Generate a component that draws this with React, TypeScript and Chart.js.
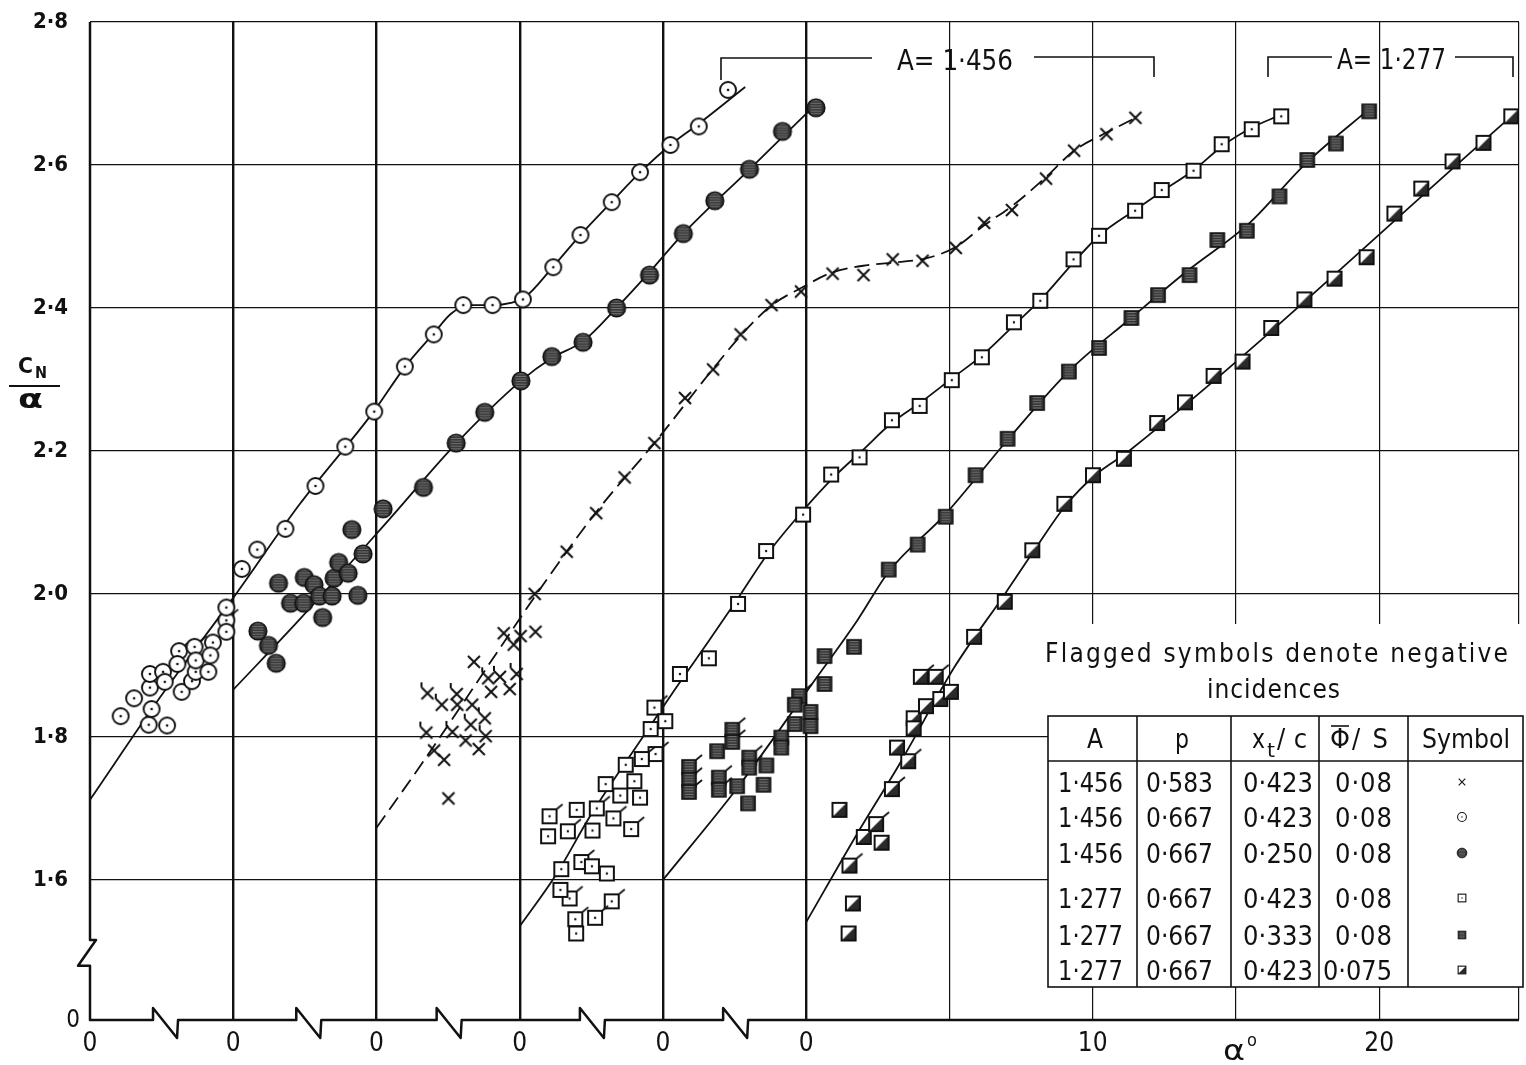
import React, { useEffect, useRef } from "react";
import { Chart, registerables } from "chart.js";

Chart.register(...registerables);

const W = 1526;
const H = 1065;
const INK = "#111111";
const FONT = '"DejaVu Sans Condensed", "DejaVu Sans", sans-serif';

// ---------- axes ----------
const X_MIN = 0;
const X_MAX = 49.88;
const Y_MIN = 1.404; // position of the broken "0"
const Y_MAX = 2.8;
// each family of curves is drawn from its own origin, shifted by 5 deg
const ORIGIN_OFFSETS = [0, 5, 10, 15, 20, 25];
const xTickValues = [0, 5, 10, 15, 20, 25, 30, 35, 40, 45, 49.88];
const xTickLabels = ["0", "0", "0", "0", "0", "0", "", "10", "", "20", ""];
const yTickValues = [1.404, 1.6, 1.8, 2.0, 2.2, 2.4, 2.6, 2.8];
const yTickLabels = ["", "1·6", "1·8", "2·0", "2·2", "2·4", "2·6", "2·8"];
const axisBreakX = [2.2, 7.2, 12.1, 17.1, 22.1];
const axisBreakY = [1.516, 1.48];

// ---------- A=1.456, p=0.667, xt/c=0.423 (open circles) ----------
const openCircleAlpha = [1.07, 1.54, 2.05, 2.15, 2.09, 2.09, 2.55, 2.61, 2.69, 3.05, 3.2, 3.56, 3.69, 3.69, 4.13, 4.2, 4.76, 4.76, 5.3, 5.84, 6.82, 7.87, 8.91, 9.92, 10.99, 12.0, 13.03, 14.05, 15.11, 16.17, 17.12, 18.21, 19.2, 20.26, 21.25, 22.27];
const openCircleCN = [1.829, 1.854, 1.817, 1.839, 1.869, 1.888, 1.891, 1.877, 1.816, 1.902, 1.863, 1.878, 1.891, 1.907, 1.891, 1.914, 1.947, 1.981, 2.035, 2.062, 2.091, 2.151, 2.206, 2.255, 2.318, 2.363, 2.404, 2.404, 2.412, 2.457, 2.502, 2.548, 2.59, 2.628, 2.654, 2.705];
const openCircleNegAlpha = [3.11, 3.65, 4.29, 4.76];
const openCircleNegCN = [1.92, 1.926, 1.932, 1.963];
const openCircleFitAlpha = [0, 2.44, 5.08, 7.31, 9.92, 11.0, 12.01, 12.6, 13.23, 14.06, 14.69, 15.18, 16.19, 17.16, 18.2, 19.21, 20.26, 21.23, 22.87];
const openCircleFitCN = [1.712, 1.855, 1.999, 2.125, 2.256, 2.318, 2.365, 2.392, 2.404, 2.404, 2.407, 2.415, 2.459, 2.504, 2.548, 2.59, 2.628, 2.657, 2.709];

// ---------- A=1.456, p=0.667, xt/c=0.250 (filled circles) ----------
const filledCircleAlpha = [0.86, 1.23, 1.5, 1.58, 2.0, 2.46, 2.48, 2.82, 3.01, 3.45, 3.12, 3.52, 3.68, 4.01, 4.14, 4.35, 4.53, 5.23, 6.64, 7.78, 8.78, 10.04, 11.12, 12.21, 13.38, 14.53, 15.71, 16.81, 18.02, 19.17, 20.34];
const filledCircleCN = [1.948, 1.928, 1.903, 2.015, 1.987, 1.987, 2.023, 2.013, 1.997, 1.997, 1.967, 2.022, 2.044, 2.029, 2.09, 1.998, 2.056, 2.119, 2.149, 2.211, 2.254, 2.298, 2.332, 2.352, 2.4, 2.446, 2.504, 2.55, 2.594, 2.647, 2.68];
const filledCircleFitAlpha = [0, 2.31, 5.44, 7.77, 10.04, 11.12, 12.23, 13.38, 14.53, 15.71, 18.02, 20.34];
const filledCircleFitCN = [1.866, 1.964, 2.104, 2.21, 2.298, 2.33, 2.354, 2.4, 2.45, 2.504, 2.594, 2.685];

// ---------- A=1.456, p=0.583, xt/c=0.423 (crosses) ----------
const crossAlpha = [5.52, 6.64, 7.67, 8.66, 9.7, 10.77, 11.75, 12.71, 13.79, 14.82, 15.92, 17.0, 18.02, 19.06, 20.22, 21.21, 22.18, 23.37, 24.35, 25.48, 26.49, 4.44, 5.03, 5.55, 4.79, 3.4, 4.0, 4.65, 2.82, 3.34, 3.11, 3.57, 2.01, 2.36, 2.51];
const crossCN = [2.0, 2.059, 2.113, 2.163, 2.211, 2.274, 2.314, 2.363, 2.404, 2.423, 2.448, 2.446, 2.468, 2.466, 2.484, 2.519, 2.537, 2.581, 2.62, 2.643, 2.666, 1.945, 1.941, 1.947, 1.929, 1.905, 1.863, 1.867, 1.845, 1.845, 1.795, 1.783, 1.781, 1.768, 1.714];
const crossNegAlpha = [3.9, 4.31, 4.89, 1.78, 2.8, 2.28, 3.78, 3.29, 2.65, 1.74, 3.81];
const crossNegCN = [1.882, 1.884, 1.888, 1.861, 1.86, 1.845, 1.826, 1.817, 1.807, 1.806, 1.801];
const crossFitAlpha = [0, 1.66, 4.39, 5.66, 7.68, 9.7, 11.75, 12.73, 13.77, 14.82, 15.93, 17.15, 18.19, 19.24, 20.21, 21.19, 22.23, 23.34, 24.35, 25.47, 26.55];
const crossFitCN = [1.673, 1.767, 1.929, 2.004, 2.115, 2.211, 2.315, 2.362, 2.403, 2.428, 2.45, 2.46, 2.464, 2.47, 2.485, 2.515, 2.544, 2.582, 2.62, 2.645, 2.667];

// ---------- A=1.277, p=0.667, xt/c=0.423, 0.08 (open squares) ----------
const openSquareAlpha = [26.58, 25.55, 24.5, 23.52, 22.41, 21.48, 20.22, 19.33, 18.17, 17.25, 16.13, 15.08, 13.96, 12.99, 11.86, 10.87, 9.89, 8.6, 7.62, 6.6, 5.59, 5.08, 4.57, 3.7, 3.0, 4.0, 3.51, 4.2, 1.99, 2.54, 0.99, 1.45, 2.52, 3.04, 1.42, 1.97];
const openSquareCN = [2.668, 2.65, 2.629, 2.592, 2.565, 2.536, 2.501, 2.468, 2.41, 2.38, 2.331, 2.299, 2.263, 2.243, 2.191, 2.167, 2.111, 2.06, 1.986, 1.91, 1.888, 1.822, 1.811, 1.761, 1.734, 1.738, 1.718, 1.715, 1.698, 1.669, 1.661, 1.615, 1.619, 1.609, 1.586, 1.525];
const openSquareNegAlpha = [4.7, 4.74, 4.26, 2.69, 1.04, 3.27, 1.68, 3.89, 2.15, 1.74, 3.21, 1.94, 2.63];
const openSquareNegCN = [1.841, 1.776, 1.769, 1.7, 1.689, 1.686, 1.668, 1.671, 1.625, 1.574, 1.57, 1.545, 1.547];
const openSquareFitAlpha = [0, 1.25, 2.47, 4.35, 5.53, 6.58, 7.62, 8.67, 9.92, 10.93, 11.97, 12.98, 14.03, 15.07, 16.15, 17.23, 18.24, 19.25, 20.22, 21.48, 22.49, 23.53, 24.54, 25.55, 26.56];
const openSquareFitCN = [1.535, 1.606, 1.69, 1.803, 1.873, 1.933, 1.994, 2.057, 2.118, 2.162, 2.201, 2.239, 2.269, 2.301, 2.334, 2.375, 2.414, 2.46, 2.501, 2.537, 2.565, 2.593, 2.627, 2.652, 2.67];

// ---------- A=1.277, p=0.667, xt/c=0.333 (filled squares) ----------
const filledSquareAlpha = [1.89, 2.59, 2.97, 3.51, 3.61, 4.13, 4.13, 4.6, 4.6, 5.15, 5.15, 5.64, 5.64, 6.67, 7.88, 8.89, 9.87, 10.91, 12.03, 13.06, 14.17, 15.22, 16.35, 17.28, 18.38, 19.35, 20.38, 21.52, 22.49, 23.49, 24.65];
const filledSquareCN = [1.78, 1.731, 1.707, 1.733, 1.76, 1.799, 1.785, 1.845, 1.818, 1.835, 1.815, 1.913, 1.874, 1.926, 2.034, 2.069, 2.108, 2.166, 2.217, 2.267, 2.311, 2.344, 2.386, 2.418, 2.446, 2.495, 2.508, 2.556, 2.607, 2.63, 2.675];
const filledSquareNegAlpha = [0.91, 0.91, 0.91, 1.95, 1.95, 2.42, 2.42, 3.01, 3.01, 4.75];
const filledSquareNegCN = [1.758, 1.74, 1.723, 1.743, 1.726, 1.81, 1.793, 1.771, 1.757, 1.857];
const filledSquareFitAlpha = [0, 2.62, 5.06, 6.8, 7.88, 9.87, 12.02, 14.18, 16.34, 18.34, 20.45, 22.46, 24.73];
const filledSquareFitCN = [1.6, 1.73, 1.866, 1.964, 2.031, 2.112, 2.215, 2.312, 2.386, 2.453, 2.518, 2.603, 2.681];

// ---------- A=1.277, p=0.667, xt/c=0.423, 0.075 (half-filled squares) ----------
const halfSquareAlpha = [1.16, 1.48, 1.63, 2.63, 3.17, 3.75, 3.75, 4.18, 4.68, 5.05, 5.86, 6.93, 7.89, 9.01, 10.01, 11.09, 12.25, 13.22, 14.22, 15.23, 16.23, 17.39, 18.44, 19.56, 20.53, 21.47, 22.56, 23.64, 24.61];
const halfSquareCN = [1.698, 1.525, 1.567, 1.652, 1.785, 1.826, 1.812, 1.843, 1.853, 1.863, 1.94, 1.989, 2.061, 2.126, 2.166, 2.189, 2.239, 2.268, 2.305, 2.325, 2.372, 2.412, 2.441, 2.471, 2.532, 2.567, 2.605, 2.631, 2.668];
const halfSquareNegAlpha = [1.51, 2.01, 2.44, 2.99, 3.56, 4.0, 4.52];
const halfSquareNegCN = [1.62, 1.66, 1.678, 1.727, 1.766, 1.884, 1.884];
const halfSquareFitAlpha = [0, 1.8, 3.3, 5.18, 6.92, 8.06, 9.04, 10.08, 11.3, 24.84];
const halfSquareFitCN = [1.541, 1.666, 1.765, 1.898, 1.999, 2.067, 2.123, 2.166, 2.201, 2.676];

// ---------- table ----------
const tableHeader = ["A", "p", "xt/c", "Φ/S", "Symbol"];
const tableA = ["1·456", "1·456", "1·456", "1·277", "1·277", "1·277"];
const tableP = ["0·583", "0·667", "0·667", "0·667", "0·667", "0·667"];
const tableXt = ["0·423", "0·423", "0·250", "0·423", "0·333", "0·423"];
const tablePhi = ["0·08", "0·08", "0·08", "0·08", "0·08", "0·075"];
type Kind = "cross" | "openCircle" | "filledCircle" | "openSquare" | "filledSquare" | "halfSquare";
const tableSymbol: Kind[] = ["cross", "openCircle", "filledCircle", "openSquare", "filledSquare", "halfSquare"];

function makeSymbol(kind: Kind, flagged: boolean, k = 1): HTMLCanvasElement {
  const S = Math.ceil(40 * k);
  const c = document.createElement("canvas");
  c.width = S;
  c.height = S;
  const g = c.getContext("2d") as CanvasRenderingContext2D;
  g.translate(S / 2, S / 2);
  g.scale(k, k);
  g.strokeStyle = INK;
  g.fillStyle = INK;
  const hatch = (r: number) => {
    g.save();
    g.clip();
    g.strokeStyle = "rgba(190,190,190,0.85)";
    g.lineWidth = 0.6;
    for (let y = -r + 1.6; y < r; y += 2.6) {
      g.beginPath();
      g.moveTo(-r * 0.62, y);
      g.lineTo(r * 0.62, y);
      g.stroke();
    }
    g.restore();
  };
  let fx = 7.5;
  if (kind === "cross") {
    g.lineWidth = 2;
    g.beginPath();
    g.moveTo(-6, -6);
    g.lineTo(6, 6);
    g.moveTo(6, -6);
    g.lineTo(-6, 6);
    g.stroke();
    if (flagged) {
      g.beginPath();
      g.moveTo(-6, -6);
      g.lineTo(-6, -11);
      g.stroke();
    }
    return c;
  } else if (kind === "openCircle") {
    g.beginPath();
    g.arc(0, 0, 8, 0, Math.PI * 2);
    g.fillStyle = "#fff";
    g.fill();
    g.lineWidth = 1.9;
    g.stroke();
    g.beginPath();
    g.arc(0, 0, 1.3, 0, Math.PI * 2);
    g.fillStyle = INK;
    g.fill();
    fx = 5.8;
  } else if (kind === "filledCircle") {
    g.beginPath();
    g.arc(0, 0, 8.8, 0, Math.PI * 2);
    g.fillStyle = "#333";
    g.fill();
    g.beginPath();
    g.arc(0, 0, 8.8, 0, Math.PI * 2);
    hatch(8.8);
    g.beginPath();
    g.arc(0, 0, 8.8, 0, Math.PI * 2);
    g.lineWidth = 1.6;
    g.stroke();
    fx = 6.3;
  } else if (kind === "openSquare") {
    g.fillStyle = "#fff";
    g.fillRect(-7, -7, 14, 14);
    g.lineWidth = 2;
    g.strokeRect(-7, -7, 14, 14);
    g.beginPath();
    g.arc(0, 0, 1.2, 0, Math.PI * 2);
    g.fillStyle = INK;
    g.fill();
    fx = 7;
  } else if (kind === "filledSquare") {
    g.fillStyle = "#333";
    g.fillRect(-7, -7, 14, 14);
    g.beginPath();
    g.rect(-7, -7, 14, 14);
    hatch(7);
    g.lineWidth = 1.6;
    g.strokeRect(-7, -7, 14, 14);
    fx = 7;
  } else {
    g.fillStyle = "#fff";
    g.fillRect(-7, -7, 14, 14);
    g.beginPath();
    g.moveTo(-7, 7);
    g.lineTo(7, -7);
    g.lineTo(7, 7);
    g.closePath();
    g.fillStyle = "#2a2a2a";
    g.fill();
    g.lineWidth = 2;
    g.strokeRect(-7, -7, 14, 14);
    fx = 7;
  }
  if (flagged) {
    g.lineWidth = 1.7;
    g.beginPath();
    g.moveTo(fx, -fx);
    g.lineTo(fx + 6, -fx - 5);
    g.stroke();
  }
  return c;
}

function fitText(ctx: CanvasRenderingContext2D, text: string, x: number, y: number, width: number, align: "left" | "center" | "right") {
  const w = ctx.measureText(text).width;
  const left = align === "left" ? x : align === "center" ? x - width / 2 : x - width;
  ctx.save();
  ctx.textAlign = "left";
  if (text.length < 2 || w >= width) {
    ctx.translate(left, y);
    ctx.scale(width / w, 1);
    ctx.fillText(text, 0, 0);
  } else {
    const chars = Array.from(text);
    const extra = (width - w) / (chars.length - 1);
    let cx = left;
    for (const ch of chars) {
      ctx.fillText(ch, cx, y);
      cx += ctx.measureText(ch).width + extra;
    }
  }
  ctx.restore();
}

const pts = (alpha: number[], cn: number[], off: number) => alpha.map((a, i) => ({ x: a + off, y: cn[i] }));

export default function App() {
  const ref = useRef<HTMLCanvasElement | null>(null);
  useEffect(() => {
    document.body.style.margin = "0";
    const canvas = ref.current;
    if (!canvas) return;
    const sym = (k: Kind, f: boolean) => makeSymbol(k, f);
    const small: Record<string, HTMLCanvasElement> = {};
    tableSymbol.forEach((k) => (small[k] = makeSymbol(k, false, 0.55)));

    const fit = (alpha: number[], cn: number[], off: number, dashed = false) => ({
      data: pts(alpha, cn, off),
      showLine: true,
      borderColor: INK,
      borderWidth: 1.8,
      borderDash: dashed ? [15, 7] : [],
      pointRadius: 0,
      cubicInterpolationMode: "monotone",
      order: 3,
    });
    const marks = (alpha: number[], cn: number[], off: number, kind: Kind, flagged: boolean) => ({
      data: pts(alpha, cn, off),
      showLine: false,
      pointStyle: sym(kind, flagged),
      pointRadius: 6,
      pointHoverRadius: 6,
      order: 1,
    });
    const [o0, o1, o2, o3, o4, o5] = ORIGIN_OFFSETS;

    const datasets: any[] = [
      fit(openCircleFitAlpha, openCircleFitCN, o0),
      fit(filledCircleFitAlpha, filledCircleFitCN, o1),
      fit(crossFitAlpha, crossFitCN, o2, true),
      fit(openSquareFitAlpha, openSquareFitCN, o3),
      fit(filledSquareFitAlpha, filledSquareFitCN, o4),
      fit(halfSquareFitAlpha, halfSquareFitCN, o5),
      marks(openCircleAlpha, openCircleCN, o0, "openCircle", false),
      marks(openCircleNegAlpha, openCircleNegCN, o0, "openCircle", true),
      marks(filledCircleAlpha, filledCircleCN, o1, "filledCircle", false),
      marks(crossAlpha, crossCN, o2, "cross", false),
      marks(crossNegAlpha, crossNegCN, o2, "cross", true),
      marks(openSquareAlpha, openSquareCN, o3, "openSquare", false),
      marks(openSquareNegAlpha, openSquareNegCN, o3, "openSquare", true),
      marks(filledSquareAlpha, filledSquareCN, o4, "filledSquare", false),
      marks(filledSquareNegAlpha, filledSquareNegCN, o4, "filledSquare", true),
      marks(halfSquareAlpha, halfSquareCN, o5, "halfSquare", false),
      marks(halfSquareNegAlpha, halfSquareNegCN, o5, "halfSquare", true),
    ];

    const decor = {
      id: "decor",
      beforeDraw(chart: any) {
        const c = chart.ctx;
        c.save();
        c.fillStyle = "#fff";
        c.fillRect(0, 0, chart.width, chart.height);
        c.restore();
      },
      afterDraw(chart: any) {
        const ctx: CanvasRenderingContext2D = chart.ctx;
        const xs = chart.scales.x;
        const ys = chart.scales.y;
        const { left, right, top, bottom } = chart.chartArea;
        ctx.save();
        ctx.strokeStyle = INK;
        ctx.fillStyle = INK;
        ctx.lineJoin = "round";

        // axes with breaks
        ctx.lineWidth = 2.5;
        ctx.beginPath();
        ctx.moveTo(left, top);
        const yb1 = ys.getPixelForValue(axisBreakY[0]);
        const yb2 = ys.getPixelForValue(axisBreakY[1]);
        ctx.lineTo(left, yb1);
        ctx.lineTo(left + 6, yb1);
        ctx.lineTo(left - 12, yb2);
        ctx.lineTo(left, yb2);
        ctx.lineTo(left, bottom);
        for (const v of axisBreakX) {
          const a = xs.getPixelForValue(v);
          ctx.lineTo(a, bottom);
          ctx.lineTo(a, bottom - 12);
          ctx.lineTo(a + 24, bottom + 18);
          ctx.lineTo(a + 25, bottom);
        }
        ctx.lineTo(right, bottom);
        ctx.stroke();

        // "0" at the foot of the broken y axis
        ctx.font = `24px ${FONT}`;
        ctx.textAlign = "center";
        ctx.textBaseline = "middle";
        ctx.fillText("0", 73, bottom + 1);

        // y-axis title C_N / alpha
        ctx.textBaseline = "alphabetic";
        ctx.font = `bold 21px ${FONT}`;
        fitText(ctx, "C", 18, 373, 15, "left");
        ctx.font = `bold 16px ${FONT}`;
        fitText(ctx, "N", 35, 378, 12, "left");
        ctx.lineWidth = 2;
        ctx.beginPath();
        ctx.moveTo(9, 386);
        ctx.lineTo(60, 386);
        ctx.stroke();
        ctx.font = `bold 26px ${FONT}`;
        fitText(ctx, "α", 18, 408, 25, "left");

        // x-axis title
        ctx.font = `28px ${FONT}`;
        fitText(ctx, "α", 1223, 1060, 22, "left");
        ctx.font = `18px ${FONT}`;
        ctx.fillText("o", 1252, 1046);

        // brackets "A = ..."
        ctx.lineWidth = 1.6;
        ctx.lineJoin = "miter";
        const seg = (p: number[][]) => {
          ctx.beginPath();
          ctx.moveTo(p[0][0], p[0][1]);
          for (let i = 1; i < p.length; i++) ctx.lineTo(p[i][0], p[i][1]);
          ctx.stroke();
        };
        seg([[721, 80], [721, 58], [872, 58]]);
        seg([[1034, 57], [1154, 57], [1154, 77]]);
        seg([[1268, 77], [1268, 57], [1332, 57]]);
        seg([[1455, 57], [1513, 57], [1513, 77]]);
        ctx.font = `28px ${FONT}`;
        fitText(ctx, "A= 1·456", 897, 70, 116, "left");
        fitText(ctx, "A= 1·277", 1337, 69, 109, "left");

        // legend block
        ctx.fillStyle = "#fff";
        ctx.fillRect(1040, 624, 482, 92);
        ctx.fillRect(1048, 716, 474, 271);
        ctx.fillStyle = INK;
        ctx.font = `26px ${FONT}`;
        fitText(ctx, "Flagged symbols denote negative", 1045, 662, 463, "left");
        fitText(ctx, "incidences", 1207, 698, 133, "left");

        ctx.lineWidth = 1.6;
        const tL = 1048, tR = 1523, tT = 716, tB = 987;
        ctx.strokeRect(tL, tT, tR - tL, tB - tT);
        seg([[tL, 761], [tR, 761]]);
        const colX = [1137, 1231, 1319, 1408];
        colX.forEach((cx) => seg([[cx, tT], [cx, tB]]));

        // headers
        ctx.font = `27px ${FONT}`;
        fitText(ctx, tableHeader[0], 1095, 748, 16, "center");
        fitText(ctx, tableHeader[1], 1182, 748, 14, "center");
        fitText(ctx, "x", 1252, 748, 13, "left");
        ctx.font = `20px ${FONT}`;
        fitText(ctx, "t", 1267, 757, 8, "left");
        ctx.font = `27px ${FONT}`;
        fitText(ctx, "/c", 1277, 748, 30, "left");
        fitText(ctx, "Φ", 1330, 748, 20, "left");
        seg([[1331, 726], [1349, 726]]);
        fitText(ctx, "/S", 1352, 748, 36, "left");
        fitText(ctx, tableHeader[4], 1422, 748, 88, "left");

        // rows
        const rowBase = [792, 827, 863, 908, 945, 980];
        ctx.font = `27px ${FONT}`;
        rowBase.forEach((by, i) => {
          fitText(ctx, tableA[i], 1058, by, 65, "left");
          fitText(ctx, tableP[i], 1146, by, 67, "left");
          fitText(ctx, tableXt[i], 1243, by, 70, "left");
          if (tablePhi[i].length > 4) fitText(ctx, tablePhi[i], 1323, by, 69, "left");
          else fitText(ctx, tablePhi[i], 1335, by, 57, "left");
          const s = small[tableSymbol[i]];
          ctx.drawImage(s, 1462 - s.width / 2, by - 10 - s.height / 2);
        });
        ctx.restore();
      },
    };

    const chart = new Chart(canvas, {
      type: "scatter",
      data: { datasets },
      plugins: [decor],
      options: {
        animation: false,
        responsive: false,
        devicePixelRatio: 1,
        events: [],
        layout: { padding: { top: 22, right: 3, bottom: 0, left: 0 } },
        plugins: { legend: { display: false }, tooltip: { enabled: false } },
        scales: {
          x: {
            type: "linear",
            min: X_MIN,
            max: X_MAX,
            afterBuildTicks: (s: any) => {
              s.ticks = xTickValues.map((v) => ({ value: v }));
            },
            afterFit: (s: any) => {
              s.height = 45;
              s.paddingLeft = 0;
              s.paddingRight = 0;
            },
            ticks: {
              callback: (_v: any, i: number) => xTickLabels[i] ?? "",
              autoSkip: false,
              maxRotation: 0,
              minRotation: 0,
              padding: 9,
              color: INK,
              font: { family: FONT, size: 26 },
            },
            grid: {
              drawTicks: false,
              tickLength: 0,
              color: (c: any) => (c.index === 0 ? "rgba(0,0,0,0)" : INK),
              lineWidth: (c: any) => (c.index >= 1 && c.index <= 5 ? 2.4 : 1.2),
            },
            border: { display: false },
          },
          y: {
            type: "linear",
            min: Y_MIN,
            max: Y_MAX,
            afterBuildTicks: (s: any) => {
              s.ticks = yTickValues.map((v) => ({ value: v }));
            },
            afterFit: (s: any) => {
              s.width = 90;
              s.paddingTop = 0;
              s.paddingBottom = 0;
            },
            ticks: {
              callback: (_v: any, i: number) => yTickLabels[i] ?? "",
              autoSkip: false,
              padding: 22,
              color: INK,
              font: { family: FONT, size: 22, weight: "bold" },
            },
            grid: {
              drawTicks: false,
              tickLength: 0,
              color: (c: any) => (c.index === 0 ? "rgba(0,0,0,0)" : INK),
              lineWidth: 1.3,
            },
            border: { display: false },
          },
        },
      } as any,
    });
    return () => chart.destroy();
  }, []);

  return (
    <div style={{ position: "absolute", left: 0, top: 0, width: W, height: H, background: "#fff" }}>
      <canvas ref={ref} width={W} height={H} style={{ display: "block", width: W, height: H }} />
    </div>
  );
}
